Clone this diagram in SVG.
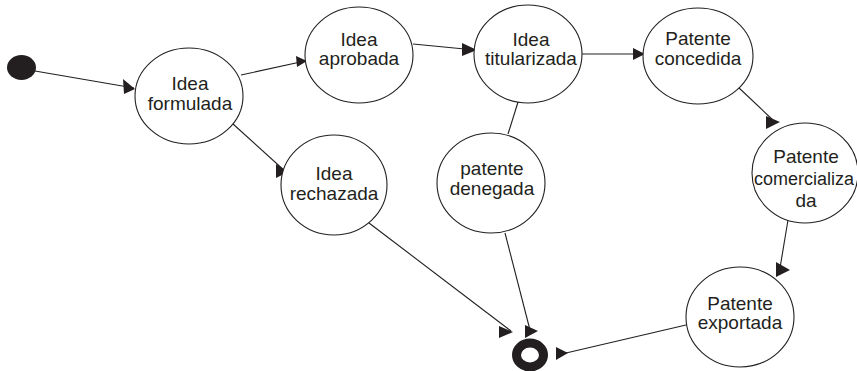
<svg xmlns="http://www.w3.org/2000/svg" width="857" height="371" viewBox="0 0 857 371">
<style>
.st{fill:#fff;stroke:#231f20;stroke-width:1.1}
.t{font-family:"Liberation Sans",Arial,sans-serif;font-size:19px;fill:#231f20;text-anchor:middle}
.c{stroke:#231f20;stroke-width:1.1;fill:none}
.ah{fill:#231f20}
</style>
<rect width="857" height="371" fill="#fff"/>
<g id="connectors">
<line class="c" x1="35" y1="71" x2="134" y2="88"/>
<line class="c" x1="241" y1="75" x2="305" y2="61"/>
<line class="c" x1="413" y1="44" x2="475" y2="50"/>
<line class="c" x1="581" y1="54" x2="644" y2="54"/>
<line class="c" x1="738" y1="87" x2="775" y2="122"/>
<line class="c" x1="788" y1="220" x2="780" y2="268"/>
<line class="c" x1="233" y1="124" x2="286" y2="172"/>
<line class="c" x1="369" y1="223" x2="511" y2="331"/>
<line class="c" x1="518" y1="102" x2="508" y2="134"/>
<line class="c" x1="505" y1="233" x2="530" y2="330"/>
<line class="c" x1="686" y1="325" x2="566" y2="353"/>
<polygon class="ah" points="123,79 124,94 135,89"/>
<polygon class="ah" points="296,56 297,67 307,61"/>
<polygon class="ah" points="462,43 462,56 477,50"/>
<polygon class="ah" points="633,48 633,60 645,54"/>
<polygon class="ah" points="766,116 766,129 780,122"/>
<polygon class="ah" points="776,262 776,277 790,270"/>
<polygon class="ah" points="276,164 276,178 288,172"/>
<polygon class="ah" points="499,326 499,338 513,332"/>
<polygon class="ah" points="525,325 525,338 538,331"/>
<polygon class="ah" points="556,347 556,360 568,353"/>
</g>
<g id="start"><ellipse cx="21.5" cy="67.5" rx="14.5" ry="12.5" fill="#231f20"/></g>
<g id="idea-formulada">
<ellipse class="st" cx="189" cy="96" rx="54" ry="48"/>
<text class="t" x="190" y="90">Idea</text>
<text class="t" x="190" y="110">formulada</text>
</g>
<g id="idea-aprobada">
<ellipse class="st" cx="359" cy="55" rx="54" ry="48"/>
<text class="t" x="359" y="46">Idea</text>
<text class="t" x="359" y="65">aprobada</text>
</g>
<g id="idea-titularizada">
<ellipse class="st" cx="528" cy="54" rx="54" ry="49"/>
<text class="t" x="531" y="46">Idea</text>
<text class="t" x="531" y="65">titularizada</text>
</g>
<g id="patente-concedida">
<ellipse class="st" cx="698" cy="56" rx="55" ry="48"/>
<text class="t" x="698" y="45">Patente</text>
<text class="t" x="698" y="65">concedida</text>
</g>
<g id="patente-comercializada">
<ellipse class="st" cx="805" cy="173" rx="53" ry="50"/>
<text class="t" x="806" y="163">Patente</text>
<text class="t" x="804" y="185" style="font-size:18px">comercializa</text>
<text class="t" x="806" y="207">da</text>
</g>
<g id="idea-rechazada">
<ellipse class="st" cx="334" cy="185" rx="53" ry="50"/>
<text class="t" x="334" y="180">Idea</text>
<text class="t" x="334" y="200">rechazada</text>
</g>
<g id="patente-denegada">
<ellipse class="st" cx="491" cy="183" rx="54" ry="50"/>
<text class="t" x="492" y="175">patente</text>
<text class="t" x="492" y="195">denegada</text>
</g>
<g id="patente-exportada">
<ellipse class="st" cx="740" cy="317" rx="54" ry="50"/>
<text class="t" x="740" y="310">Patente</text>
<text class="t" x="740" y="329">exportada</text>
</g>
<g id="final"><ellipse cx="530" cy="355" rx="13.5" ry="12" fill="none" stroke="#231f20" stroke-width="9"/></g>
</svg>
